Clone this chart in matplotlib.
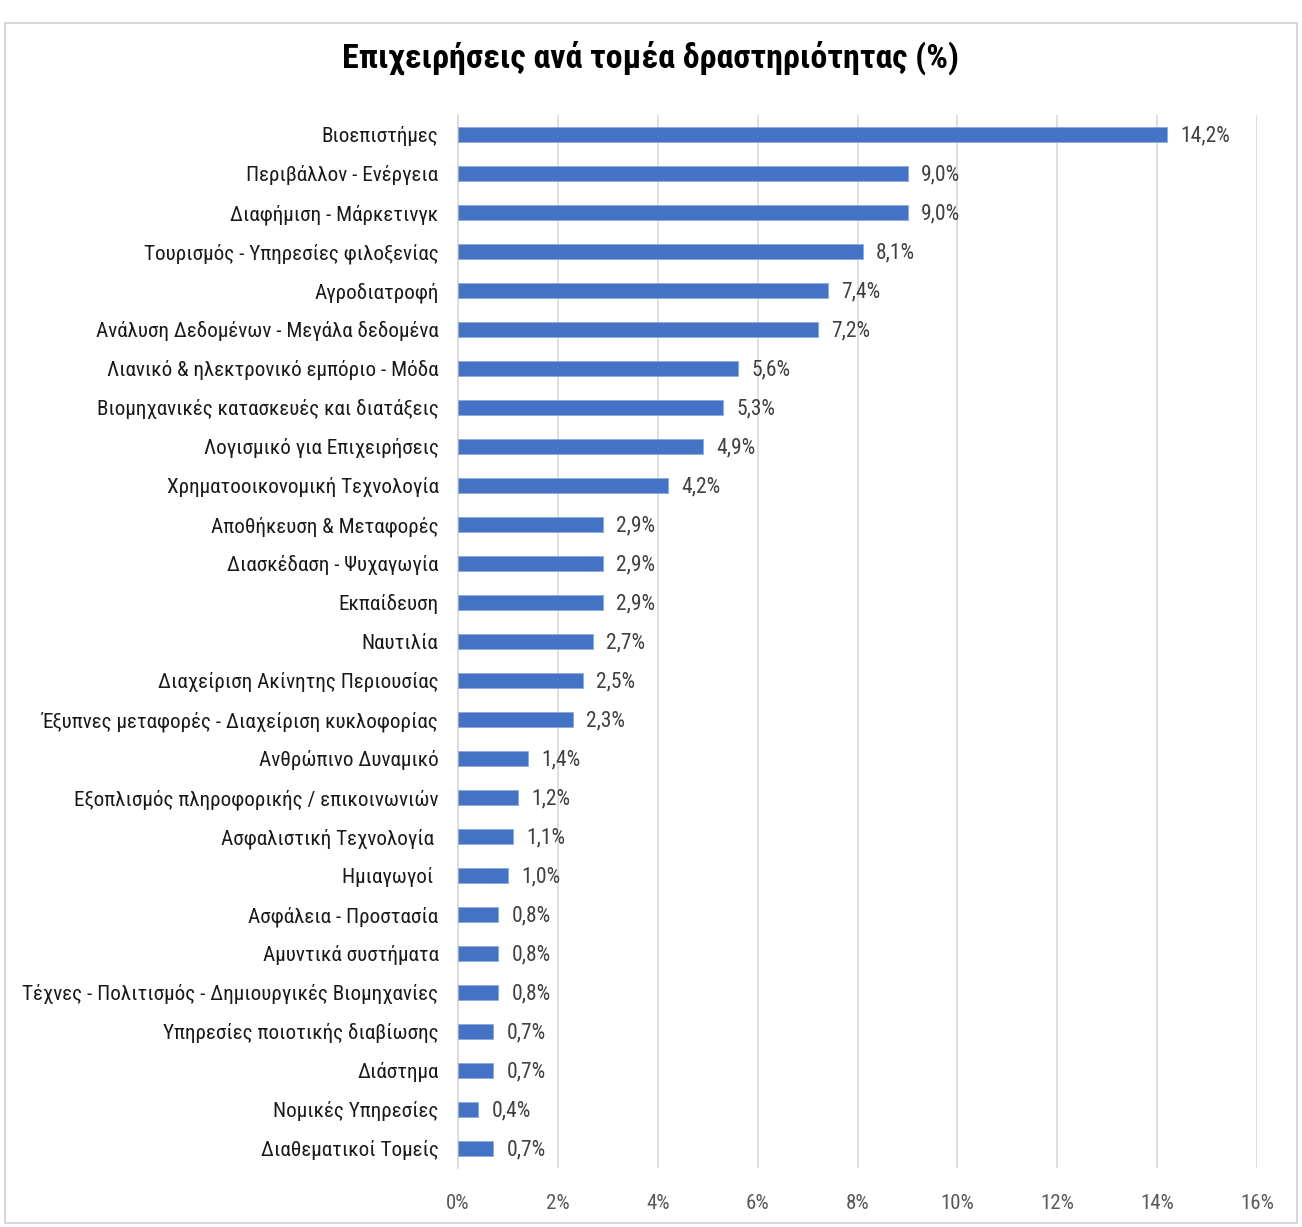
import matplotlib.pyplot as plt
from matplotlib.font_manager import fontManager
from matplotlib.patches import Rectangle

names = {f.name for f in fontManager.ttflist}
base = "Liberation Sans"
for cand in ["Roboto Condensed", "Open Sans Condensed", "Liberation Sans Narrow"]:
    if cand in names:
        base = cand
        break
plt.rcParams['font.family'] = [base, 'DejaVu Sans']

sectors = [
    "Βιοεπιστήμες",
    "Περιβάλλον - Ενέργεια",
    "Διαφήμιση - Μάρκετινγκ",
    "Τουρισμός - Υπηρεσίες φιλοξενίας",
    "Αγροδιατροφή",
    "Ανάλυση Δεδομένων - Μεγάλα δεδομένα",
    "Λιανικό & ηλεκτρονικό εμπόριο - Μόδα",
    "Βιομηχανικές κατασκευές και διατάξεις",
    "Λογισμικό για Επιχειρήσεις",
    "Χρηματοοικονομική Τεχνολογία",
    "Αποθήκευση & Μεταφορές",
    "Διασκέδαση - Ψυχαγωγία",
    "Εκπαίδευση",
    "Ναυτιλία",
    "Διαχείριση Ακίνητης Περιουσίας",
    "Έξυπνες μεταφορές - Διαχείριση κυκλοφορίας",
    "Ανθρώπινο Δυναμικό",
    "Εξοπλισμός πληροφορικής / επικοινωνιών",
    "Ασφαλιστική Τεχνολογία ",
    "Ημιαγωγοί ",
    "Ασφάλεια - Προστασία",
    "Αμυντικά συστήματα",
    "Τέχνες - Πολιτισμός - Δημιουργικές Βιομηχανίες",
    "Υπηρεσίες ποιοτικής διαβίωσης",
    "Διάστημα",
    "Νομικές Υπηρεσίες",
    "Διαθεματικοί Τομείς",
]
shares = [14.2, 9.0, 9.0, 8.1, 7.4, 7.2, 5.6, 5.3, 4.9, 4.2, 2.9, 2.9, 2.9, 2.7,
          2.5, 2.3, 1.4, 1.2, 1.1, 1.0, 0.8, 0.8, 0.8, 0.7, 0.7, 0.4, 0.7]
xticks = [0, 2, 4, 6, 8, 10, 12, 14, 16]

fig = plt.figure(figsize=(13.02, 12.27), dpi=100)
ax = fig.add_axes([0.3518, 0.0481, 0.6137, 0.8582])

pos = list(range(len(sectors)))
ax.barh(pos, shares, height=0.37, color="#4472C4", edgecolor="#8FAADC", linewidth=0.6, zorder=3)
for p, v in zip(pos, shares):
    ax.text(v + 0.27, p + 0.04, f"{v:.1f}%".replace(".", ","), va="center", ha="left",
            fontsize=15.5, color="#404040")

ax.set_ylim(len(sectors) - 0.5, -0.5)
ax.set_xlim(0, 16)
ax.set_yticks(pos)
ax.set_yticklabels(sectors, fontsize=15.2, color="#1a1a1a")
ax.set_xticks(xticks)
ax.set_xticklabels([f"{t}%" for t in xticks], fontsize=15, color="#595959")
ax.tick_params(axis="both", length=0)
ax.tick_params(axis="y", pad=14)
ax.tick_params(axis="x", pad=19)
ax.grid(axis="x", color="#D9D9D9", linewidth=1.2, zorder=0)
for s in ["top", "right", "bottom"]:
    ax.spines[s].set_visible(False)
ax.spines["left"].set_color("#D9D9D9")
ax.spines["left"].set_linewidth(1.2)

fig.text(0.5, 0.953, "Επιχειρήσεις ανά τομέα δραστηριότητας (%)", ha="center", va="center",
         fontsize=24.5, fontweight="bold", color="black")

fig.patches.append(Rectangle((0.004, 0.003), 0.992, 0.978, transform=fig.transFigure,
                             fill=False, edgecolor="#D0D0D0", linewidth=1.2))

fig.savefig("out.png", dpi=100)
